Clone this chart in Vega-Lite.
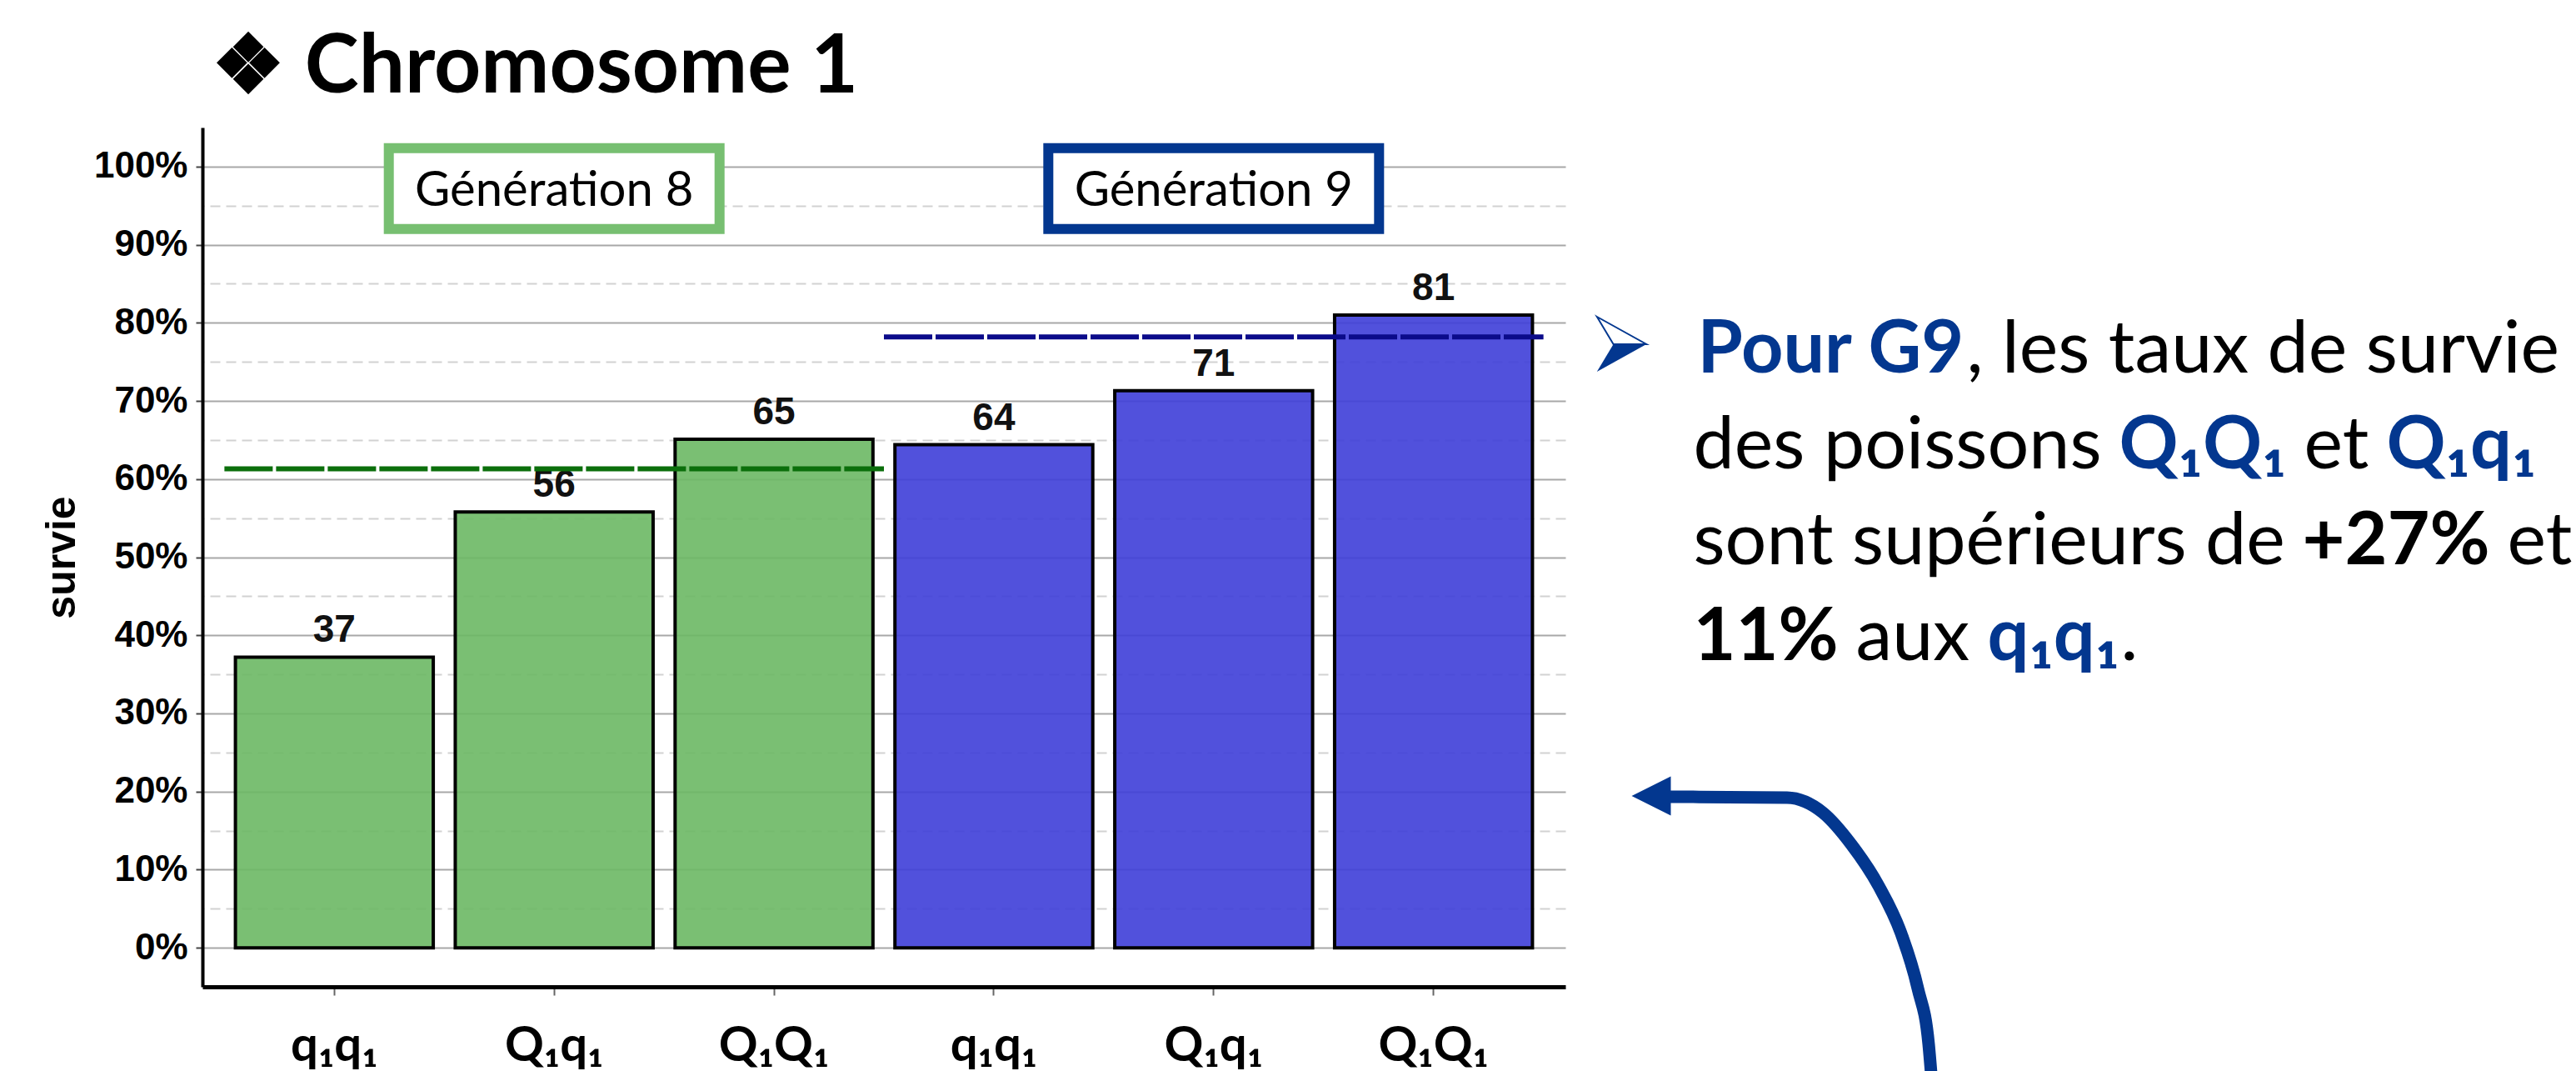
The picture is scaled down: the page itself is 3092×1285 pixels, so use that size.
{
  "$schema": "https://vega.github.io/schema/vega-lite/v6.json",
  "background": "white",
  "padding": {"left": 49, "top": 33, "right": 0, "bottom": 0},
  "config": {
    "view": {"stroke": null},
    "font": "Lato",
    "axisY": {"titleFont": "Liberation Sans", "titleFontWeight": "bold", "titleFontSize": 50, "titleColor": "black"}
  },
  "datasets": {
    "bars": [
      {"cat": "G8|q₁q₁", "generation": "Génération 8", "survie": 37.2},
      {"cat": "G8|Q₁q₁", "generation": "Génération 8", "survie": 55.8},
      {"cat": "G8|Q₁Q₁", "generation": "Génération 8", "survie": 65.1},
      {"cat": "G9|q₁q₁", "generation": "Génération 9", "survie": 64.4},
      {"cat": "G9|Q₁q₁", "generation": "Génération 9", "survie": 71.3},
      {"cat": "G9|Q₁Q₁", "generation": "Génération 9", "survie": 81.0}
    ],
    "means": [
      {"generation": "Génération 8", "moyenne": 61.3, "from": "G8|q₁q₁", "to": "G8|Q₁Q₁"},
      {"generation": "Génération 9", "moyenne": 78.2, "from": "G9|q₁q₁", "to": "G9|Q₁Q₁"}
    ],
    "boxes": [
      {"generation": "Génération 8", "anchor": "G8|Q₁q₁"},
      {"generation": "Génération 9", "anchor": "G9|Q₁q₁"}
    ],
    "arrow": [
      {"px": 88, "py": 133},
      {"px": 228, "py": 134},
      {"px": 271, "py": 152},
      {"px": 305, "py": 190},
      {"px": 338, "py": 240},
      {"px": 365, "py": 297},
      {"px": 385, "py": 363},
      {"px": 398, "py": 430},
      {"px": 401, "py": 465}
    ],
    "arrowhead": [{"px": 65, "py": 132}]
  },
  "spacing": 33,
  "hconcat": [
    {
      "width": 1636,
      "height": 1031,
      "title": {"text": "❖ Chromosome 1", "anchor": "start", "frame": "group", "font": "Lato", "fontSize": 98, "fontWeight": "bold", "color": "black", "baseline": "alphabetic", "offset": -56, "dx": 11},
      "resolve": {"axis": {"x": "independent", "y": "independent"}, "scale": {"stroke": "independent"}},
      "layer": [
        {
          "data": {"name": "bars"},
          "mark": {"type": "bar", "stroke": "black", "strokeWidth": 4, "fillOpacity": 0.9},
          "encoding": {
            "x": {
              "field": "cat", "type": "nominal", "title": null,
              "scale": {"domain": ["G8|q₁q₁", "G8|Q₁q₁", "G8|Q₁Q₁", "G9|q₁q₁", "G9|Q₁q₁", "G9|Q₁Q₁"], "paddingInner": 0.1, "paddingOuter": 0.15},
              "axis": {"labelExpr": "split(datum.value, '|')[1]", "labelAngle": 0, "labelFont": "Lato", "labelFontWeight": "bold", "labelFontSize": 58, "labelColor": "black", "labelPadding": 32, "tickSize": 10, "tickColor": "#666666", "tickWidth": 2, "domainColor": "black", "domainWidth": 5, "grid": false}
            },
            "y": {
              "field": "survie", "type": "quantitative",
              "scale": {"domain": [-5, 105], "nice": false, "zero": false},
              "axis": {"title": "survie", "values": [0, 10, 20, 30, 40, 50, 60, 70, 80, 90, 100], "labelExpr": "datum.value + '%'", "grid": true, "gridColor": "#a8a8a8", "gridWidth": 2, "domainColor": "black", "domainWidth": 4, "tickColor": "#444444", "tickWidth": 2, "tickSize": 8, "labelFont": "Liberation Sans", "labelFontWeight": "bold", "labelFontSize": 44, "labelColor": "black", "labelPadding": 10, "titleFont": "Liberation Sans", "titleFontWeight": "bold", "titleFontSize": 50, "titleColor": "black", "titlePadding": 22, "minExtent": 122, "maxExtent": 122}
            },
            "color": {"field": "generation", "type": "nominal", "scale": {"domain": ["Génération 8", "Génération 9"], "range": ["#6CB864", "#3E3ED8"]}, "legend": null}
          }
        },
        {
          "data": {"name": "bars"},
          "mark": {"type": "text", "baseline": "alphabetic", "dy": -18, "font": "Liberation Sans", "fontWeight": "bold", "fontSize": 46, "color": "#111111"},
          "encoding": {
            "x": {"field": "cat", "type": "nominal", "axis": null},
            "y": {"field": "survie", "type": "quantitative", "axis": null},
            "text": {"field": "survie", "type": "quantitative", "format": ".0f"}
          }
        },
        {
          "data": {"name": "means"},
          "mark": {"type": "rule", "strokeWidth": 6, "strokeDash": [58, 4]},
          "encoding": {
            "x": {"field": "from", "type": "nominal", "bandPosition": -0.0556, "axis": null},
            "x2": {"field": "to", "type": "nominal", "bandPosition": 1.0556},
            "y": {
              "field": "moyenne", "type": "quantitative",
              "scale": {"domain": [-5, 105], "nice": false, "zero": false},
              "axis": {"orient": "right", "values": [5, 15, 25, 35, 45, 55, 65, 75, 85, 95], "grid": true, "gridColor": "#d2d2d2", "gridWidth": 2, "gridDash": [12, 7], "labels": false, "ticks": false, "domain": false, "title": null, "minExtent": 0, "maxExtent": 0}
            },
            "stroke": {"field": "generation", "type": "nominal", "scale": {"domain": ["Génération 8", "Génération 9"], "range": ["#0B6F0B", "#0B0B8A"]}, "legend": null}
          }
        },
        {
          "data": {"name": "boxes"},
          "mark": {"type": "rect", "fill": "white", "strokeWidth": 12, "width": 397},
          "encoding": {
            "x": {"field": "anchor", "type": "nominal", "axis": null},
            "y": {"datum": 102.35, "axis": null},
            "y2": {"datum": 92.0},
            "stroke": {"field": "generation", "type": "nominal", "scale": {"domain": ["Génération 8", "Génération 9"], "range": ["#77BF71", "#03378F"]}, "legend": null}
          }
        },
        {
          "data": {"name": "boxes"},
          "mark": {"type": "text", "baseline": "middle", "align": "center", "font": "Lato", "fontSize": 58, "color": "black"},
          "encoding": {
            "x": {"field": "anchor", "type": "nominal", "axis": null},
            "y": {"datum": 96.8, "axis": null},
            "text": {"field": "generation"}
          }
        }
      ]
    },
    {
      "spacing": 0,
      "vconcat": [
        {"width": 1, "height": 210, "data": {"values": [{"part": ""}]}, "mark": {"type": "text"}, "encoding": {"text": {"field": "part"}}},
        {
          "spacing": 0,
          "hconcat": [
            {
              "width": 59, "height": 100, "data": {"values": [{"part": "➢"}]},
              "layer": [
                {"mark": {"type": "point", "shape": "M-0.9,-1L0.9,0L-0.3,0Z", "size": 4356, "filled": true, "fill": "white", "stroke": "#03378F", "strokeWidth": 2, "opacity": 1}, "encoding": {}},
                {"mark": {"type": "point", "shape": "M-0.3,0L0.9,0L-0.9,1Z", "size": 4356, "filled": true, "color": "#03378F", "opacity": 1}, "encoding": {}}
              ]
            },
            {"width": 56, "height": 115, "data": {"values": [{"part": ""}]}, "mark": {"type": "text"}, "encoding": {"text": {"field": "part"}}},
            {"width": 1, "height": 115, "data": {"values": [{"part": "Pour G9"}]}, "mark": {"type": "text", "align": "left", "baseline": "middle", "font": "Lato", "fontSize": 88, "fontWeight": "bold", "color": "#03378F"}, "encoding": {"text": {"field": "part"}}},
            {"width": 1, "height": 115, "data": {"values": [{"part": ", les taux de survie"}]}, "mark": {"type": "text", "align": "left", "baseline": "middle", "font": "Lato", "fontSize": 88, "color": "black"}, "encoding": {"text": {"field": "part"}}}
          ]
        },
        {
          "spacing": 20,
          "hconcat": [
            {"width": 95, "height": 115, "data": {"values": [{"part": ""}]}, "mark": {"type": "text"}, "encoding": {"text": {"field": "part"}}},
            {"width": 1, "height": 115, "data": {"values": [{"part": "des poissons"}]}, "mark": {"type": "text", "align": "left", "baseline": "middle", "font": "Lato", "fontSize": 88, "color": "black"}, "encoding": {"text": {"field": "part"}}},
            {"width": 1, "height": 115, "data": {"values": [{"part": "Q₁Q₁"}]}, "mark": {"type": "text", "align": "left", "baseline": "middle", "font": "Lato", "fontSize": 88, "fontWeight": "bold", "color": "#03378F"}, "encoding": {"text": {"field": "part"}}},
            {"width": 1, "height": 115, "data": {"values": [{"part": "et"}]}, "mark": {"type": "text", "align": "left", "baseline": "middle", "font": "Lato", "fontSize": 88, "color": "black"}, "encoding": {"text": {"field": "part"}}},
            {"width": 1, "height": 115, "data": {"values": [{"part": "Q₁q₁"}]}, "mark": {"type": "text", "align": "left", "baseline": "middle", "font": "Lato", "fontSize": 88, "fontWeight": "bold", "color": "#03378F"}, "encoding": {"text": {"field": "part"}}}
          ]
        },
        {
          "spacing": 20,
          "hconcat": [
            {"width": 95, "height": 115, "data": {"values": [{"part": ""}]}, "mark": {"type": "text"}, "encoding": {"text": {"field": "part"}}},
            {"width": 1, "height": 115, "data": {"values": [{"part": "sont supérieurs de"}]}, "mark": {"type": "text", "align": "left", "baseline": "middle", "font": "Lato", "fontSize": 88, "color": "black"}, "encoding": {"text": {"field": "part"}}},
            {"width": 1, "height": 115, "data": {"values": [{"part": "+27%"}]}, "mark": {"type": "text", "align": "left", "baseline": "middle", "font": "Lato", "fontSize": 88, "fontWeight": "bold", "color": "black"}, "encoding": {"text": {"field": "part"}}},
            {"width": 1, "height": 115, "data": {"values": [{"part": "et"}]}, "mark": {"type": "text", "align": "left", "baseline": "middle", "font": "Lato", "fontSize": 88, "color": "black"}, "encoding": {"text": {"field": "part"}}}
          ]
        },
        {
          "spacing": 20,
          "hconcat": [
            {"width": 95, "height": 115, "data": {"values": [{"part": ""}]}, "mark": {"type": "text"}, "encoding": {"text": {"field": "part"}}},
            {"width": 1, "height": 115, "data": {"values": [{"part": "11%"}]}, "mark": {"type": "text", "align": "left", "baseline": "middle", "font": "Lato", "fontSize": 88, "fontWeight": "bold", "color": "black"}, "encoding": {"text": {"field": "part"}}},
            {"width": 1, "height": 115, "data": {"values": [{"part": "aux"}]}, "mark": {"type": "text", "align": "left", "baseline": "middle", "font": "Lato", "fontSize": 88, "color": "black"}, "encoding": {"text": {"field": "part"}}},
            {
              "spacing": 0,
              "hconcat": [
                {"width": 1, "height": 115, "data": {"values": [{"part": "q₁q₁"}]}, "mark": {"type": "text", "align": "left", "baseline": "middle", "font": "Lato", "fontSize": 88, "fontWeight": "bold", "color": "#03378F"}, "encoding": {"text": {"field": "part"}}},
                {"width": 1, "height": 115, "data": {"values": [{"part": "."}]}, "mark": {"type": "text", "align": "left", "baseline": "middle", "font": "Lato", "fontSize": 88, "color": "black"}, "encoding": {"text": {"field": "part"}}}
              ]
            }
          ]
        },
        {
          "width": 420,
          "height": 465,
          "layer": [
            {
              "data": {"name": "arrow"},
              "mark": {"type": "line", "interpolate": "monotone", "strokeWidth": 15, "color": "#03378F", "strokeCap": "butt"},
              "encoding": {
                "x": {"field": "px", "type": "quantitative", "scale": {"domain": [0, 420], "nice": false, "zero": false}, "axis": null},
                "y": {"field": "py", "type": "quantitative", "scale": {"domain": [0, 465], "nice": false, "zero": false, "reverse": true}, "axis": null}
              }
            },
            {
              "data": {"name": "arrowhead"},
              "mark": {"type": "point", "shape": "M-1,0L1,-1L1,1Z", "size": 2209, "filled": true, "color": "#03378F", "opacity": 1},
              "encoding": {
                "x": {"field": "px", "type": "quantitative", "axis": null},
                "y": {"field": "py", "type": "quantitative", "axis": null}
              }
            }
          ]
        }
      ]
    }
  ]
}
